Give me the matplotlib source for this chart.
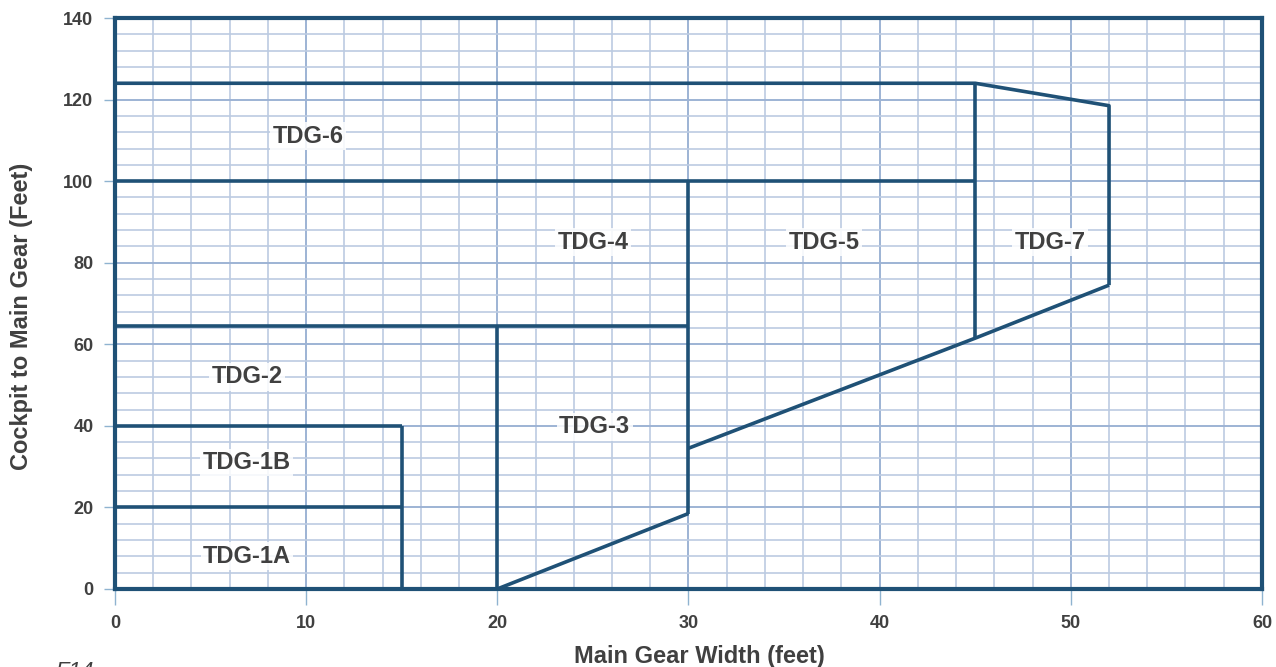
import numpy as np
import matplotlib
matplotlib.use("Agg")
import matplotlib.pyplot as plt
from matplotlib.ticker import MultipleLocator

plt.rcParams['font.family'] = ['Liberation Sans', 'DejaVu Sans']

# boundary segments of the taxiway design groups (x = main gear width, y = cockpit to main gear)
boundaries = [
    ([0, 15], [20, 20]),
    ([0, 15], [40, 40]),
    ([15, 15], [0, 40]),
    ([0, 30], [64.5, 64.5]),
    ([20, 20], [0, 64.5]),
    ([20, 30], [0, 18.5]),
    ([30, 30], [18.5, 100]),
    ([30, 45, 52], [34.5, 61.5, 74.5]),
    ([0, 45], [100, 100]),
    ([45, 45], [61.5, 124]),
    ([0, 45, 52, 52], [124, 124, 118.5, 74.5]),
]

labels = ["TDG-1A", "TDG-1B", "TDG-2", "TDG-3", "TDG-4", "TDG-5", "TDG-6", "TDG-7"]
label_x = [6.9, 6.9, 6.9, 25.1, 25.0, 37.1, 10.1, 48.9]
label_y = [8.0, 31.0, 52.0, 39.8, 85.0, 85.0, 111.0, 85.0]

line_col = '#1f5176'
text_col = '#404040'

fig = plt.figure(figsize=(12.76, 6.67), dpi=100)
ax = fig.add_axes([0.0901, 0.117, 0.8989, 0.856])

ax.set_xlim(0, 60)
ax.set_ylim(0, 140)
ax.xaxis.set_major_locator(MultipleLocator(10))
ax.yaxis.set_major_locator(MultipleLocator(20))
ax.xaxis.set_minor_locator(MultipleLocator(2))
ax.yaxis.set_minor_locator(MultipleLocator(4))
ax.grid(which='minor', color='#bccbe2', linewidth=1.2, zorder=0)
ax.grid(which='major', color='#9db3d4', linewidth=1.4, zorder=0)
ax.set_axisbelow(True)

for xs, ys in boundaries:
    ax.plot(xs, ys, color=line_col, linewidth=2.6, solid_capstyle='butt', zorder=3)

for s in ax.spines.values():
    s.set_color(line_col)
    s.set_linewidth(3)

ax.tick_params(which='major', width=1, color='#8fb3d0',
               labelsize=13, labelcolor=text_col)
ax.tick_params(axis='x', which='major', length=11.5, pad=7)
ax.tick_params(axis='y', which='major', length=8, pad=7.5)
ax.tick_params(which='minor', length=0)
for t in ax.get_xticklabels() + ax.get_yticklabels():
    t.set_fontweight('bold')

for lab, x, y in zip(labels, label_x, label_y):
    ax.text(x, y, lab, ha='center', va='center', fontsize=17, fontweight='bold',
            color=text_col, zorder=4,
            bbox=dict(boxstyle='square,pad=0.1', facecolor='white', edgecolor='none', alpha=0.85))

ax.set_xlabel('Main Gear Width (feet)', fontsize=17, fontweight='bold', color=text_col)
ax.set_ylabel('Cockpit to Main Gear (Feet)', fontsize=17, fontweight='bold', color=text_col)
ax.xaxis.set_label_coords(0.5096, -0.098)
ax.yaxis.set_label_coords(-0.0715, 0.478)

fig.text(0.043, 0.009, 'F14', fontsize=16, fontstyle='italic', color=text_col, va='top')

fig.savefig('out.png', dpi=100)
